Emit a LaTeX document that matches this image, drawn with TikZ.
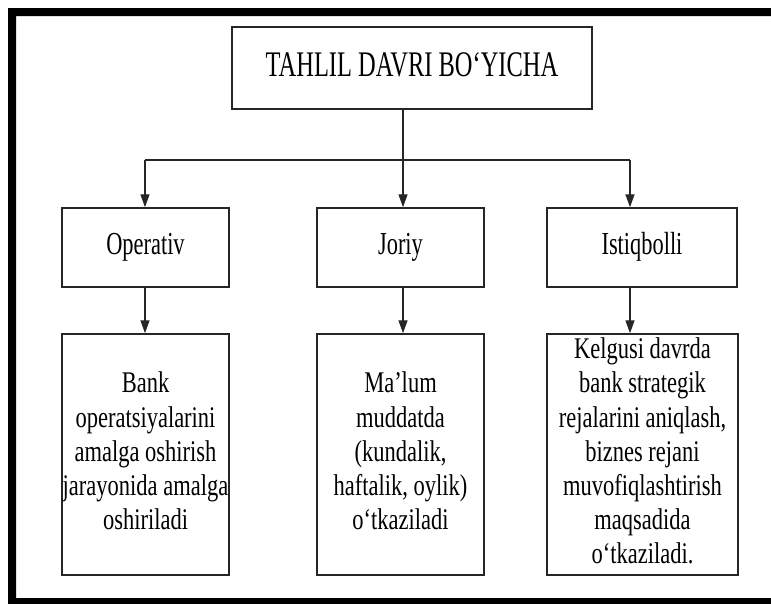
\documentclass[tikz,border=0pt]{standalone}
\usepackage{fontspec}
\setmainfont{Liberation Serif}
\usepackage{graphicx}
\usetikzlibrary{arrows.meta}
\newcommand{\nrw}[2]{\scalebox{#1}[1]{\begin{tabular}{@{}c@{}}#2\end{tabular}}}
\begin{document}
\begin{tikzpicture}[x=1pt,y=-1pt,
  box/.style={draw=black!85, line width=1.5pt, inner sep=0pt, align=center},
  arr/.style={line width=1.4pt, draw=black!85, -{Triangle[length=13pt,width=9pt]}},
  ln/.style={line width=1.4pt, draw=black!85}]
\useasboundingbox (0,0) rectangle (771,603);
\fill[black, even odd rule] (8,8) rectangle (795,612) (16,16) rectangle (790,598);
% top
\node[box, minimum width=360pt, minimum height=82pt] (top) at (412,68)
  {\fontsize{36}{40}\selectfont\nrw{0.68}{TAHLIL DAVRI BO‘YICHA}};
% row 2
\node[box, minimum width=167pt, minimum height=79pt] (op) at (145.5,247.5)
  {\fontsize{32}{36}\selectfont\nrw{0.7}{Operativ}};
\node[box, minimum width=167pt, minimum height=79pt] (jo) at (400.5,247.5)
  {\fontsize{32}{36}\selectfont\nrw{0.7}{Joriy}};
\node[box, minimum width=190pt, minimum height=79pt] (is) at (642,247.5)
  {\fontsize{32}{36}\selectfont\nrw{0.7}{Istiqbolli}};
% row 3
\node[box, minimum width=167pt, minimum height=241pt] (op3) at (145.5,454.5)
  {\fontsize{30}{34.2}\selectfont\nrw{0.75}{Bank\\operatsiyalarini\\amalga oshirish\\jarayonida amalga\\oshiriladi}};
\node[box, minimum width=167pt, minimum height=241pt] (jo3) at (400.5,454.5)
  {\fontsize{30}{34.2}\selectfont\nrw{0.75}{Ma’lum\\muddatda\\(kundalik,\\haftalik, oylik)\\o‘tkaziladi}};
\node[box, minimum width=191pt, minimum height=241pt] (is3) at (642.5,454.5)
  {\fontsize{30}{34.2}\selectfont\nrw{0.75}{Kelgusi davrda\\bank strategik\\rejalarini aniqlash,\\biznes rejani\\muvofiqlashtirish\\maqsadida\\o‘tkaziladi.}};
% connectors
\coordinate (tb) at (403,109);
\coordinate (b1) at (145,160);
\coordinate (b2) at (403,160);
\coordinate (b3) at (630,160);
\draw[ln] (tb) -- (b2);
\draw[ln] (b1) -- (b3);
\draw[arr] (b1) -- (b1 |- op.north);
\draw[arr] (b2) -- (b2 |- jo.north);
\draw[arr] (b3) -- (b3 |- is.north);
\draw[arr] (b1 |- op.south) -- (b1 |- op3.north);
\draw[arr] (b2 |- jo.south) -- (b2 |- jo3.north);
\draw[arr] (b3 |- is.south) -- (b3 |- is3.north);
\end{tikzpicture}
\end{document}
